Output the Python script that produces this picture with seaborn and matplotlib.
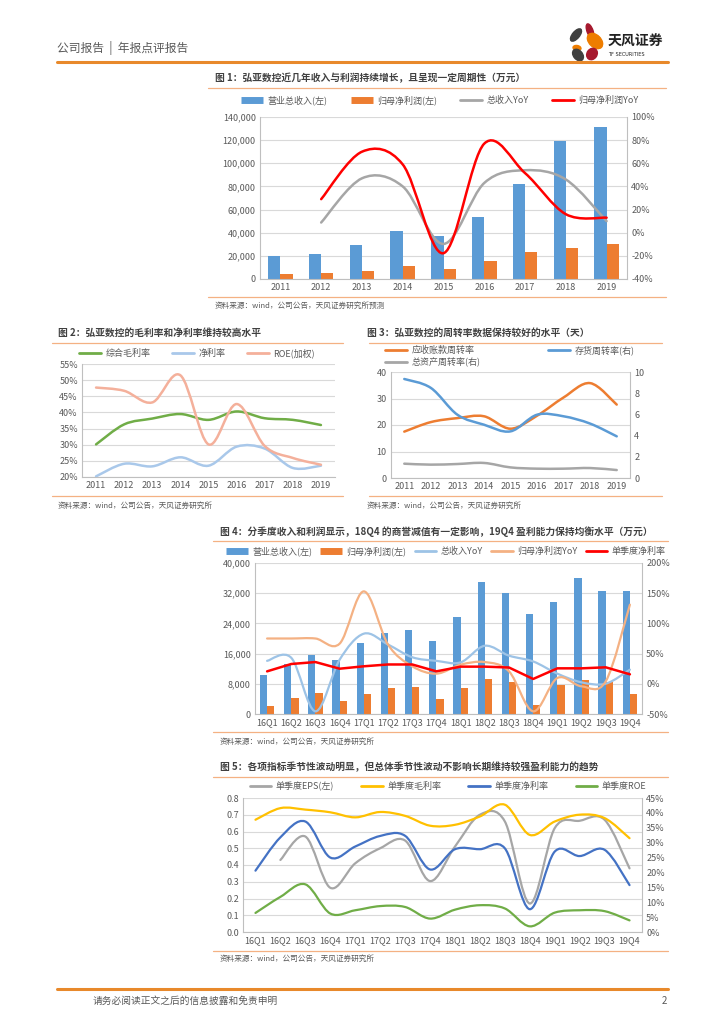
# -*- coding: utf-8 -*-
import numpy as np
import pandas as pd
import seaborn as sns
import matplotlib.pyplot as plt
from matplotlib.path import Path
from matplotlib.patches import PathPatch, Ellipse
from matplotlib.lines import Line2D
from matplotlib.ticker import FuncFormatter, FormatStrFormatter

sns.set_theme(style='white')
plt.rcParams['font.family'] = ['Noto Sans CJK SC', 'DejaVu Sans']
plt.rcParams['axes.unicode_minus'] = False

#%% data
# fig 1 (万元, %)
years = ['2011', '2012', '2013', '2014', '2015', '2016', '2017', '2018', '2019']
rev_y = [20200, 21600, 29200, 41600, 37500, 53400, 82000, 119500, 131000]
np_y = [4000, 5200, 6900, 11000, 8700, 15300, 23400, 27100, 30300]
rev_yoy_y = [8.8, 47, 40, -9.7, 43, 54, 46, 10]      # from 2012
np_yoy_y = [29, 70, 59, -17.7, 77, 51.5, 16, 13]     # from 2012

# fig 2 (%)
gross_m = [30.1, 36.3, 38.1, 39.5, 37.7, 40.3, 38.2, 37.7, 36.1]
net_m = [20.2, 24.1, 23.3, 26.1, 23.5, 29.4, 28.8, 22.8, 23.5]
roe_w = [47.7, 46.7, 43.1, 51.5, 30.1, 42.6, 29.6, 25.9, 23.8]

# fig 3
ar_turn = [17.5, 21.1, 22.6, 23.3, 18.6, 23.5, 30.4, 35.8, 27.7]
inv_turn = [9.34, 8.5, 5.97, 5.03, 4.4, 5.97, 5.82, 5.13, 3.93]
asset_turn = [1.35, 1.26, 1.32, 1.42, 1.0, 0.88, 0.88, 0.94, 0.75]

# fig 4 (万元, %)
quarters = ['16Q1', '16Q2', '16Q3', '16Q4', '17Q1', '17Q2', '17Q3', '17Q4',
            '18Q1', '18Q2', '18Q3', '18Q4', '19Q1', '19Q2', '19Q3', '19Q4']
rev_q = [10300, 13300, 15500, 14200, 18900, 21500, 22200, 19400,
         25800, 35000, 32000, 26500, 29800, 35900, 32700, 32700]
np_q = [2100, 4200, 5650, 3500, 5400, 6900, 7100, 4100,
        7000, 9400, 8500, 2300, 7600, 8900, 8600, 5200]
rev_yoy_q = [38, 43, -45.6, 40, 83, 65, 44, 38, 35.5, 63, 46.6, 37, 16.8, 2.4, 0.2, 23.4]
np_yoy_q = [75, 75, 75, 66.5, 153, 65, 29, 16.8, 31.7, 36, 20.7, -45.6, 9.6, -4.2, 4, 131]
net_m_q = [20.6, 32.8, 36, 25, 29, 32, 32, 20.6, 28.4, 28.4, 27, 8, 25.6, 25.6, 27.3, 15.7]

# fig 5
eps_q = [0.43, 0.57, 0.264, 0.41, 0.50, 0.546, 0.304, 0.51, 0.70, 0.66, 0.17, 0.62, 0.664, 0.67, 0.38]  # from 16Q2
gm_q = [37.7, 41.6, 41.1, 40.2, 38.5, 40.3, 39, 35.7, 36, 38.8, 42.75, 32.6, 37.1, 39.4, 38.25, 31.5]
nm_q = [20.6, 31.8, 37.1, 25, 28.7, 32.25, 32.3, 21, 27.8, 27.8, 28.1, 7.65, 27, 25.5, 27.6, 15.75]
roe_q = [6.4, 11.8, 16, 6.2, 7.3, 8.7, 8.4, 4.5, 7.5, 9, 7.9, 1.9, 6.5, 7.3, 7, 3.9]

#%% helpers
W, H = 724, 1024
BLUE, ORANGE = '#5B9BD5', '#ED7D31'
GRID, SPINE, TXT = '#D9D9D9', '#BFBFBF', '#595959'
LINE_OR = '#F4B183'
FS = 6.5

fig = plt.figure(figsize=(W / 100, H / 100), dpi=100)


def box(l, t, r, b):
    return [l / W, 1 - b / H, (r - l) / W, (b - t) / H]


def ftext(x, y, s, **kw):
    kw.setdefault('va', 'center')
    fig.text(x / W, 1 - y / H, s, **kw)


def hline(y, x0, x1, color=LINE_OR, lw=0.9):
    fig.add_artist(Line2D([x0 / W, x1 / W], [1 - y / H, 1 - y / H], color=color, lw=lw))


def smooth(ax, x, y, color, lw=1.8, z=3):
    # excel-like smoothed line (cubic bezier through the data points)
    pts = list(zip(x, y))
    verts, codes = [pts[0]], [Path.MOVETO]
    for i in range(len(pts) - 1):
        p0 = pts[i - 1] if i > 0 else pts[i]
        p1, p2 = pts[i], pts[i + 1]
        p3 = pts[i + 2] if i + 2 < len(pts) else pts[i + 1]
        c1 = (p1[0] + (p2[0] - p0[0]) / 6, p1[1] + (p2[1] - p0[1]) / 6)
        c2 = (p2[0] - (p3[0] - p1[0]) / 6, p2[1] - (p3[1] - p1[1]) / 6)
        verts += [c1, c2, p2]
        codes += [Path.CURVE4] * 3
    ax.add_patch(PathPatch(Path(verts, codes), fill=False, ec=color, lw=lw,
                           capstyle='round', joinstyle='round', zorder=z))


def style(ax, spines=('left', 'bottom'), grid=True):
    for s in ['left', 'right', 'top', 'bottom']:
        ax.spines[s].set_visible(s in spines)
        ax.spines[s].set_color(SPINE)
        ax.spines[s].set_linewidth(0.8)
    ax.tick_params(axis='both', labelsize=FS, labelcolor=TXT, colors=SPINE, length=0, pad=3)
    if grid:
        ax.yaxis.grid(True, color=GRID, lw=0.8)
        ax.set_axisbelow(True)
    ax.set_xlabel('')
    ax.set_ylabel('')


def cat_ticks(ax, labels):
    n = len(labels)
    ax.set_xlim(-0.5, n - 0.5)
    ax.set_xticks(range(n))
    ax.set_xticklabels(labels)
    ax.set_xticks(np.arange(-0.5, n, 1), minor=True)
    ax.tick_params(axis='x', which='minor', length=4, color=SPINE, width=0.8)


def twin(ax):
    axr = ax.twinx()
    for s in axr.spines.values():
        s.set_visible(False)
    axr.tick_params(axis='y', labelsize=FS, labelcolor=TXT, length=0, pad=3)
    axr.grid(False)
    return axr


def bar_h(c):
    return Line2D([], [], color=c, lw=5, solid_capstyle='butt')


def line_h(c, lw=2):
    return Line2D([], [], color=c, lw=lw)


def legend(handles, labels, cx, cy, ncol, colsp=2.0, hl=2.4):
    fig.legend(handles, labels, loc='center', bbox_to_anchor=(cx / W, 1 - cy / H), ncol=ncol,
               frameon=False, fontsize=FS, handlelength=hl, handletextpad=0.5,
               columnspacing=colsp, labelcolor=TXT, borderaxespad=0, borderpad=0, labelspacing=0.3)


comma = FuncFormatter(lambda v, p: f'{v:,.0f}')
pct = FuncFormatter(lambda v, p: f'{v:.0f}%')

#%% page header
ftext(57, 48, '公司报告  |  年报点评报告', fontsize=8.5, color=TXT)
hline(62, 57, 668, color='#E8892B', lw=2.2)
lg = fig.add_axes(box(566, 22, 606, 62))
lg.set_xlim(0, 40)
lg.set_ylim(40, 0)
lg.axis('off')
for (cx, cy, w, h, a, c) in [(10, 13, 7, 15, 40, '#404040'), (24, 9, 6, 15, -20, '#A6192E'),
                             (29, 19, 12, 18, -45, '#EE7D00'), (11, 26, 8, 5, 10, '#EE7D00'),
                             (12, 33, 9, 13, -40, '#404040'), (26, 32, 10, 12, 35, '#A6192E')]:
    lg.add_patch(Ellipse((cx, cy), w, h, angle=a, color=c))
ftext(608, 42, '天风证券', fontsize=10, color='#222222', fontweight='bold')
ftext(608, 55, 'TF SECURITIES', fontsize=3.6, color='#222222', family='DejaVu Sans')

#%% figure 1
ftext(215, 78, '图 1：弘亚数控近几年收入与利润持续增长，且呈现一定周期性（万元）', fontsize=7, color='#404040', fontweight='bold')
hline(88, 208, 666)
df1 = pd.DataFrame({'year': years * 2, 'value': rev_y + np_y,
                    'series': ['营业总收入(左)'] * 9 + ['归母净利润(左)'] * 9})
ax1 = fig.add_axes(box(260, 117, 627, 279))
sns.barplot(data=df1, x='year', y='value', hue='series', palette=[BLUE, ORANGE],
            width=0.6, gap=0, saturation=1, linewidth=0, legend=False, ax=ax1)
style(ax1, spines=('left', 'right', 'bottom'))
cat_ticks(ax1, years)
ax1.set_ylim(0, 140000)
ax1.set_yticks(range(0, 140001, 20000))
ax1.yaxis.set_major_formatter(comma)
ax1r = twin(ax1)
ax1r.set_ylim(-40, 100)
ax1r.set_yticks(range(-40, 101, 20))
ax1r.yaxis.set_major_formatter(pct)
smooth(ax1r, range(1, 9), rev_yoy_y, '#A6A6A6', lw=1.8)
smooth(ax1r, range(1, 9), np_yoy_y, '#FF0000', lw=1.8)
legend([bar_h(BLUE), bar_h(ORANGE), line_h('#A6A6A6'), line_h('#FF0000')],
       ['营业总收入(左)', '归母净利润(左)', '总收入YoY', '归母净利润YoY'], 440, 100, 4, colsp=2.6)
hline(297, 208, 666)
ftext(215, 306, '资料来源：wind，公司公告，天风证券研究所预测', fontsize=5.5, color=TXT)

#%% figure 2
ftext(58, 333, '图 2：弘亚数控的毛利率和净利率维持较高水平', fontsize=7, color='#404040', fontweight='bold')
hline(343, 52, 343)
ax2 = fig.add_axes(box(82, 364, 335, 477))
style(ax2, spines=('left', 'bottom'))
cat_ticks(ax2, years)
ax2.set_ylim(20, 55)
ax2.set_yticks(range(20, 56, 5))
ax2.yaxis.set_major_formatter(pct)
smooth(ax2, range(9), gross_m, '#70AD47', lw=1.8)
smooth(ax2, range(9), net_m, '#A9C8EA', lw=1.8)
smooth(ax2, range(9), roe_w, '#F4B09B', lw=1.8)
legend([line_h('#70AD47'), line_h('#A9C8EA'), line_h('#F4B09B')],
       ['综合毛利率', '净利率', 'ROE(加权)'], 197, 353, 3, colsp=2.4)
hline(496, 52, 343)
ftext(58, 506, '资料来源：wind，公司公告，天风证券研究所', fontsize=5.5, color=TXT)

#%% figure 3
ftext(367, 333, '图 3：弘亚数控的周转率数据保持较好的水平（天）', fontsize=7, color='#404040', fontweight='bold')
hline(343, 369, 662)
ax3 = fig.add_axes(box(391, 372, 630, 478))
style(ax3, spines=('left', 'right', 'bottom'))
cat_ticks(ax3, years)
ax3.set_ylim(0, 40)
ax3.set_yticks(range(0, 41, 10))
ax3r = twin(ax3)
ax3r.set_ylim(0, 10)
ax3r.set_yticks(range(0, 11, 2))
smooth(ax3, range(9), ar_turn, '#ED7D31', lw=1.8)
smooth(ax3r, range(9), inv_turn, '#5B9BD5', lw=1.8)
smooth(ax3r, range(9), asset_turn, '#A6A6A6', lw=1.8)
legend([line_h('#ED7D31'), line_h('#A6A6A6'), line_h('#5B9BD5')],
       ['应收账款周转率', '总资产周转率(右)', '存货周转率(右)'], 510, 356, 2, colsp=7.5)
hline(496, 369, 662)
ftext(367, 506, '资料来源：wind，公司公告，天风证券研究所', fontsize=5.5, color=TXT)

#%% figure 4
ftext(220, 532, '图 4：分季度收入和利润显示，18Q4 的商誉减值有一定影响，19Q4 盈利能力保持均衡水平（万元）',
      fontsize=7, color='#404040', fontweight='bold')
hline(541, 213, 668)
df4 = pd.DataFrame({'q': quarters * 2, 'value': rev_q + np_q,
                    'series': ['营业总收入(左)'] * 16 + ['归母净利润(左)'] * 16})
ax4 = fig.add_axes(box(255, 563, 642, 714))
sns.barplot(data=df4, x='q', y='value', hue='series', palette=[BLUE, ORANGE],
            width=0.6, gap=0, saturation=1, linewidth=0, legend=False, ax=ax4)
style(ax4, spines=('left', 'right', 'bottom'))
cat_ticks(ax4, quarters)
ax4.set_ylim(0, 40000)
ax4.set_yticks(range(0, 40001, 8000))
ax4.yaxis.set_major_formatter(comma)
ax4r = twin(ax4)
ax4r.set_ylim(-50, 200)
ax4r.set_yticks(range(-50, 201, 50))
ax4r.yaxis.set_major_formatter(pct)
smooth(ax4r, range(16), rev_yoy_q, '#9DC3E6', lw=1.6)
smooth(ax4r, range(16), np_yoy_q, '#F4B183', lw=1.6)
sns.lineplot(x=list(range(16)), y=net_m_q, color='#FF0000', lw=1.8, ax=ax4r, zorder=4)
ax4r.set_ylabel('')
legend([bar_h(BLUE), bar_h(ORANGE), line_h('#9DC3E6'), line_h('#F4B183'), line_h('#FF0000')],
       ['营业总收入(左)', '归母净利润(左)', '总收入YoY', '归母净利润YoY', '单季度净利率'], 446, 551, 5, colsp=0.9)
hline(732, 213, 668)
ftext(220, 742, '资料来源：wind，公司公告，天风证券研究所', fontsize=5.5, color=TXT)

#%% figure 5
ftext(220, 767, '图 5：各项指标季节性波动明显，但总体季节性波动不影响长期维持较强盈利能力的趋势',
      fontsize=7, color='#404040', fontweight='bold')
hline(777, 213, 668)
ax5 = fig.add_axes(box(243, 798, 642, 932))
style(ax5, spines=('left', 'right', 'bottom'))
cat_ticks(ax5, quarters)
ax5.set_ylim(0, 0.8)
ax5.set_yticks(np.arange(0, 0.81, 0.1))
ax5.yaxis.set_major_formatter(FormatStrFormatter('%.1f'))
ax5r = twin(ax5)
ax5r.set_ylim(0, 45)
ax5r.set_yticks(range(0, 46, 5))
ax5r.yaxis.set_major_formatter(pct)
smooth(ax5, range(1, 16), eps_q, '#A6A6A6', lw=1.6)
smooth(ax5r, range(16), gm_q, '#FFC000', lw=1.6)
smooth(ax5r, range(16), nm_q, '#4472C4', lw=1.6)
smooth(ax5r, range(16), roe_q, '#70AD47', lw=1.6)
legend([line_h('#A6A6A6'), line_h('#FFC000'), line_h('#4472C4'), line_h('#70AD47')],
       ['单季度EPS(左)', '单季度毛利率', '单季度净利率', '单季度ROE'], 448, 786, 4, colsp=3)
hline(951, 213, 668)
ftext(220, 959, '资料来源：wind，公司公告，天风证券研究所', fontsize=5.5, color=TXT)

#%% footer
hline(989, 57, 668, color='#E8892B', lw=2.2)
ftext(93, 1001, '请务必阅读正文之后的信息披露和免责申明', fontsize=7, color=TXT)
ftext(667, 1001, '2', fontsize=7, color=TXT, ha='right')

fig.savefig('out.png', dpi=100, facecolor='white')
